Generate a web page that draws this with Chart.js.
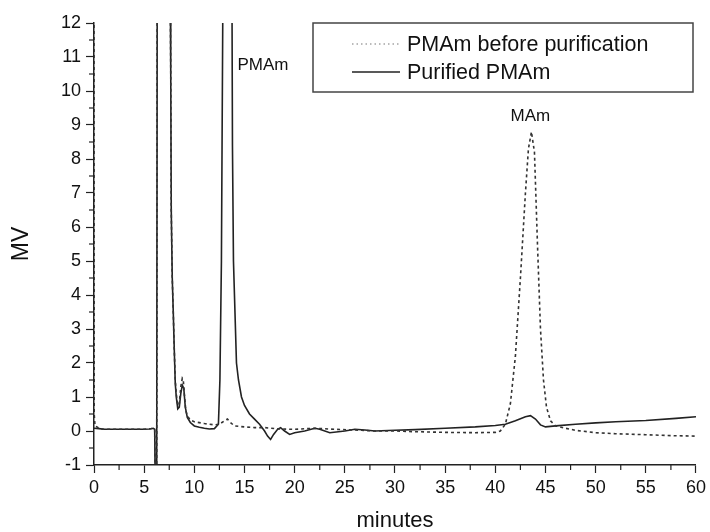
<!DOCTYPE html>
<html>
<head>
<meta charset="utf-8">
<script src="https://cdn.jsdelivr.net/npm/chart.js@4/dist/chart.umd.min.js"></script>
<style>
html,body{margin:0;padding:0;background:#fff;}
#wrap{position:relative;width:710px;height:532px;}
</style>
</head>
<body>
<div id="wrap"><canvas id="c" width="710" height="532"></canvas></div>
<script>
// ---- data ----
const purifiedLabel = "Purified PMAm";
const beforeLabel = "PMAm before purification";
const purifiedTime = [0,0.5,1,2,3,4,5,5.5,5.9,6.05,6.1,6.25,6.3,7.6,7.65,7.7,7.8,7.9,8.0,8.1,8.2,8.35,8.5,8.65,8.8,8.95,9.1,9.3,9.6,10,10.5,11,11.5,12,12.4,12.55,12.7,12.85,13.75,13.8,13.9,14.0,14.2,14.4,14.7,15.0,15.5,16,16.5,17,17.3,17.6,17.9,18.3,18.6,19,19.5,20,21,22,22.5,23.5,25,26,27,28,30,32,35,38,40,41,42,43,43.5,44,44.5,45,46,48,50,52,55,58,60];
const purifiedMV = [0.08,0.07,0.05,0.05,0.05,0.05,0.05,0.06,0.08,0.05,-1.5,-1.5,13,13,10.5,6.5,4.5,3.5,2.4,1.4,1.0,0.65,0.7,1.1,1.35,1.25,0.7,0.4,0.25,0.15,0.11,0.08,0.06,0.07,0.2,1.5,5,13,13,8.4,5,4,2,1.5,1.0,0.75,0.5,0.35,0.2,0.0,-0.15,-0.25,-0.1,0.05,0.1,0.0,-0.1,-0.05,0.0,0.08,0.05,-0.05,0.0,0.05,0.03,0.0,0.02,0.04,0.08,0.12,0.16,0.2,0.3,0.42,0.45,0.35,0.18,0.12,0.15,0.2,0.24,0.27,0.31,0.37,0.42];
const beforeTime = [0,0.02,0.1,0.3,0.6,1,2,3,4,5,5.5,5.9,6.05,6.1,6.25,6.3,7.6,7.65,7.7,7.8,7.9,8.0,8.1,8.2,8.35,8.5,8.65,8.8,8.9,9.0,9.15,9.3,9.6,10,11,12,12.5,13,13.3,13.6,14,15,16,17,18.5,20,22,24,26,28,30,32,35,38,40,40.5,41,41.5,42,42.5,43,43.3,43.6,43.9,44.2,44.5,44.8,45.1,45.5,46,47,48,50,52,55,58,60];
const beforeMV = [13,0.5,0.15,0.12,0.06,0.05,0.05,0.05,0.05,0.05,0.06,0.08,0.05,-1.5,-1.5,13,13,10.5,6.5,4.5,3.5,2.4,1.5,1.1,0.75,0.8,1.3,1.55,1.5,1.1,0.6,0.45,0.32,0.27,0.22,0.18,0.2,0.3,0.35,0.25,0.15,0.12,0.1,0.1,0.06,0.05,0.08,0.05,0.03,0.0,0.0,-0.02,-0.04,-0.05,-0.04,0.0,0.2,0.8,2.2,4.5,7.0,8.3,8.8,8.2,5.5,3.0,1.5,0.7,0.3,0.15,0.08,0.02,-0.05,-0.08,-0.11,-0.14,-0.15];
const xTicks = [0,5,10,15,20,25,30,35,40,45,50,55,60];
const yTicks = [-1,0,1,2,3,4,5,6,7,8,9,10,11,12];
const peakLabels = [{text:"PMAm", t:14.3, v:10.75, align:"left"},{text:"MAm", t:43.5, v:9.25, align:"center"}];

const FONT = "'Liberation Sans', Arial, sans-serif";
const INK = "#222";
const TXT = "#111";

function pts(xs, ys){ return xs.map((x,i)=>({x:x,y:ys[i]})); }

const minorTicks = {
  id:'minorTicks',
  afterDraw(chart){
    const ctx = chart.ctx, xs = chart.scales.x, ys = chart.scales.y;
    ctx.save();
    ctx.strokeStyle = INK; ctx.lineWidth = 1.2;
    for (let i=0;i<xTicks.length-1;i++){
      const p = xs.getPixelForValue((xTicks[i]+xTicks[i+1])/2);
      ctx.beginPath(); ctx.moveTo(p, xs.top); ctx.lineTo(p, xs.top+5); ctx.stroke();
    }
    for (let i=0;i<yTicks.length-1;i++){
      const p = ys.getPixelForValue((yTicks[i]+yTicks[i+1])/2);
      ctx.beginPath(); ctx.moveTo(ys.right-5, p); ctx.lineTo(ys.right, p); ctx.stroke();
    }
    // peak labels
    ctx.fillStyle = TXT;
    ctx.font = "17px " + FONT;
    ctx.textBaseline = "middle";
    peakLabels.forEach(l=>{
      ctx.textAlign = l.align;
      ctx.fillText(l.text, xs.getPixelForValue(l.t), ys.getPixelForValue(l.v));
    });
    // legend box
    const ca = chart.chartArea;
    const bx = ca.left + 219, by = ca.top, bw = 380, bh = 69;
    ctx.fillStyle = "#fff";
    ctx.fillRect(bx, by, bw, bh);
    ctx.strokeStyle = "#444"; ctx.lineWidth = 1.5;
    ctx.strokeRect(bx, by, bw, bh);
    const ds = chart.data.datasets;
    [ds[0], ds[1]].forEach((d, i)=>{
      const yy = by + 21 + i*28;
      ctx.save();
      ctx.strokeStyle = i===0 ? "#777" : INK;
      ctx.lineWidth = i===0 ? 1.2 : 1.5;
      ctx.setLineDash(i===0 ? [1.5,3] : []);
      ctx.beginPath(); ctx.moveTo(bx+39, yy); ctx.lineTo(bx+87, yy); ctx.stroke();
      ctx.restore();
      ctx.fillStyle = TXT;
      ctx.font = "21.5px " + FONT;
      ctx.textAlign = "left";
      ctx.fillText(d.label, bx+94, yy+1);
    });
    ctx.restore();
  }
};

new Chart(document.getElementById('c'), {
  type: 'scatter',
  data: {
    datasets: [
      {label: beforeLabel, data: pts(beforeTime, beforeMV), showLine:true, borderColor:"#333", borderWidth:1.6, borderDash:[3,3], pointRadius:0, tension:0},
      {label: purifiedLabel, data: pts(purifiedTime, purifiedMV), showLine:true, borderColor:INK, borderWidth:1.6, pointRadius:0, tension:0}
    ]
  },
  options: {
    responsive:false, animation:false, devicePixelRatio:1,
    layout:{padding:{left:0,right:12,top:23,bottom:0}},
    plugins:{legend:{display:false}, tooltip:{enabled:false}},
    scales:{
      x:{
        type:'linear', min:0, max:60,
        afterBuildTicks(s){ s.ticks = xTicks.map(v=>({value:v})); },
        afterFit(s){ s.height = 67; },
        border:{display:true, color:INK, width:1.5},
        grid:{drawOnChartArea:false, drawTicks:true, tickLength:8, tickColor:INK, tickWidth:1.2},
        ticks:{color:TXT, font:{family:FONT, size:18}, padding:4, maxRotation:0, autoSkip:false},
        title:{display:true, text:"minutes", color:TXT, font:{family:FONT, size:22, lineHeight:1}, padding:{top:0,bottom:0}}
      },
      y:{
        type:'linear', min:-1, max:12,
        afterBuildTicks(s){ s.ticks = yTicks.map(v=>({value:v})); },
        afterFit(s){ s.width = 94; },
        border:{display:true, color:INK, width:1.5},
        grid:{drawOnChartArea:false, drawTicks:true, tickLength:8, tickColor:INK, tickWidth:1.2},
        ticks:{color:TXT, font:{family:FONT, size:18}, padding:5, autoSkip:false},
        title:{display:true, text:"MV", color:TXT, font:{family:FONT, size:23, lineHeight:1}, padding:{top:10,bottom:0}}
      }
    }
  },
  plugins:[minorTicks]
});
</script>
</body>
</html>
